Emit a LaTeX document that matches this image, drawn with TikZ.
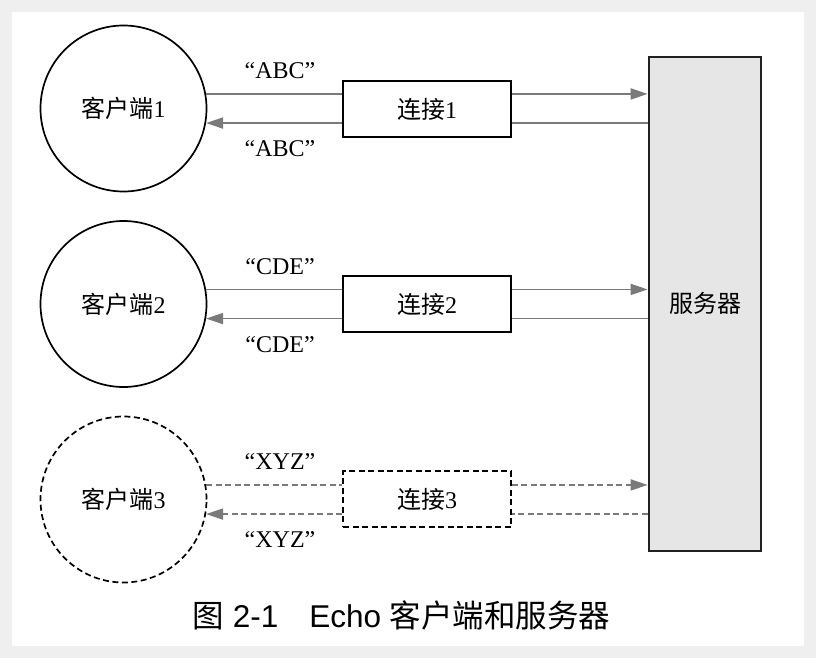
\documentclass[tikz,border=0pt]{standalone}
\usepackage{fontspec}
\setmainfont{Liberation Serif}
\newfontfamily\cjk{Noto Sans CJK SC}
\newfontfamily\capsans{Liberation Sans}
\usetikzlibrary{arrows.meta,calc}
\definecolor{linegray}{HTML}{7A7A7A}
\definecolor{srvfill}{HTML}{E6E6E6}
\definecolor{bggray}{HTML}{EFEFEF}
\begin{document}
\begin{tikzpicture}[x=1pt,y=-1pt,
  txt/.style={font=\fontsize{24}{28}\selectfont},
  client/.style={circle,draw=black,line width=1.7pt,minimum size=166pt,inner sep=0pt,txt},
  connbox/.style={rectangle,draw=black,line width=1.6pt,minimum width=168pt,minimum height=56pt,inner sep=0pt,txt},
  dsh/.style={dash pattern=on 6pt off 3.5pt},
  conn/.style={draw=linegray,line width=1.8pt},
  tip/.style={-{Triangle[length=17pt,width=11pt,fill=linegray]}},
  lbl/.style={txt,anchor=base,inner sep=0pt}
]
\fill[bggray] (0,0) rectangle (816,658);
\fill[white] (12,12) rectangle (804,646);
\useasboundingbox (0,0) rectangle (816,658);

\node[rectangle,draw=black!87,line width=2.2pt,fill=srvfill,minimum width=112pt,minimum height=494pt,inner sep=0pt,txt] (srv) at (704.7,303.9) {};
\node[txt] (srvl) at (705,303) {\cjk 服务器};

\node[client] (c1) at (123.5,108.5) {{\cjk 客户端}1};
\node[client] (c2) at (123.5,304) {{\cjk 客户端}2};
\node[client,dsh] (c3) at (123.5,499.5) {{\cjk 客户端}3};

\node[connbox] (b1) at (427,109) {{\cjk 连接}1};
\node[connbox] (b2) at (427,304) {{\cjk 连接}2};
\node[connbox,dsh] (b3) at (427,499) {{\cjk 连接}3};

\foreach \i in {1,2} {
  \draw[conn] (c\i.10) -- (b\i.west |- c\i.10);
  \draw[conn,tip] (b\i.east |- c\i.10) -- (srv.west |- c\i.10);
  \draw[conn] (srv.west |- c\i.-10) -- (b\i.east |- c\i.-10);
  \draw[conn,tip] (b\i.west |- c\i.-10) -- (c\i.-10);
}
\draw[conn,dsh] (c3.10) -- (b3.west |- c3.10);
\draw[conn,dsh,tip] (b3.east |- c3.10) -- (srv.west |- c3.10);
\draw[conn,dsh] (srv.west |- c3.-10) -- (b3.east |- c3.-10);
\draw[conn,dsh,tip] (b3.west |- c3.-10) -- (c3.-10);

\node[lbl] (l1a) at (280,79) {“ABC”};
\node[lbl] (l1b) at (280,156) {“ABC”};
\node[lbl] (l2a) at (280,274) {“CDE”};
\node[lbl] (l2b) at (280,352) {“CDE”};
\node[lbl] (l3a) at (280,469) {“XYZ”};
\node[lbl] (l3b) at (280,547) {“XYZ”};

\node[font=\capsans\fontsize{31.5}{38}\selectfont,inner sep=0pt] (cap) at (401.5,615)
  {{\cjk 图} 2-1\hspace{31pt}Echo {\cjk 客户端和服务器}};
\end{tikzpicture}
\end{document}
